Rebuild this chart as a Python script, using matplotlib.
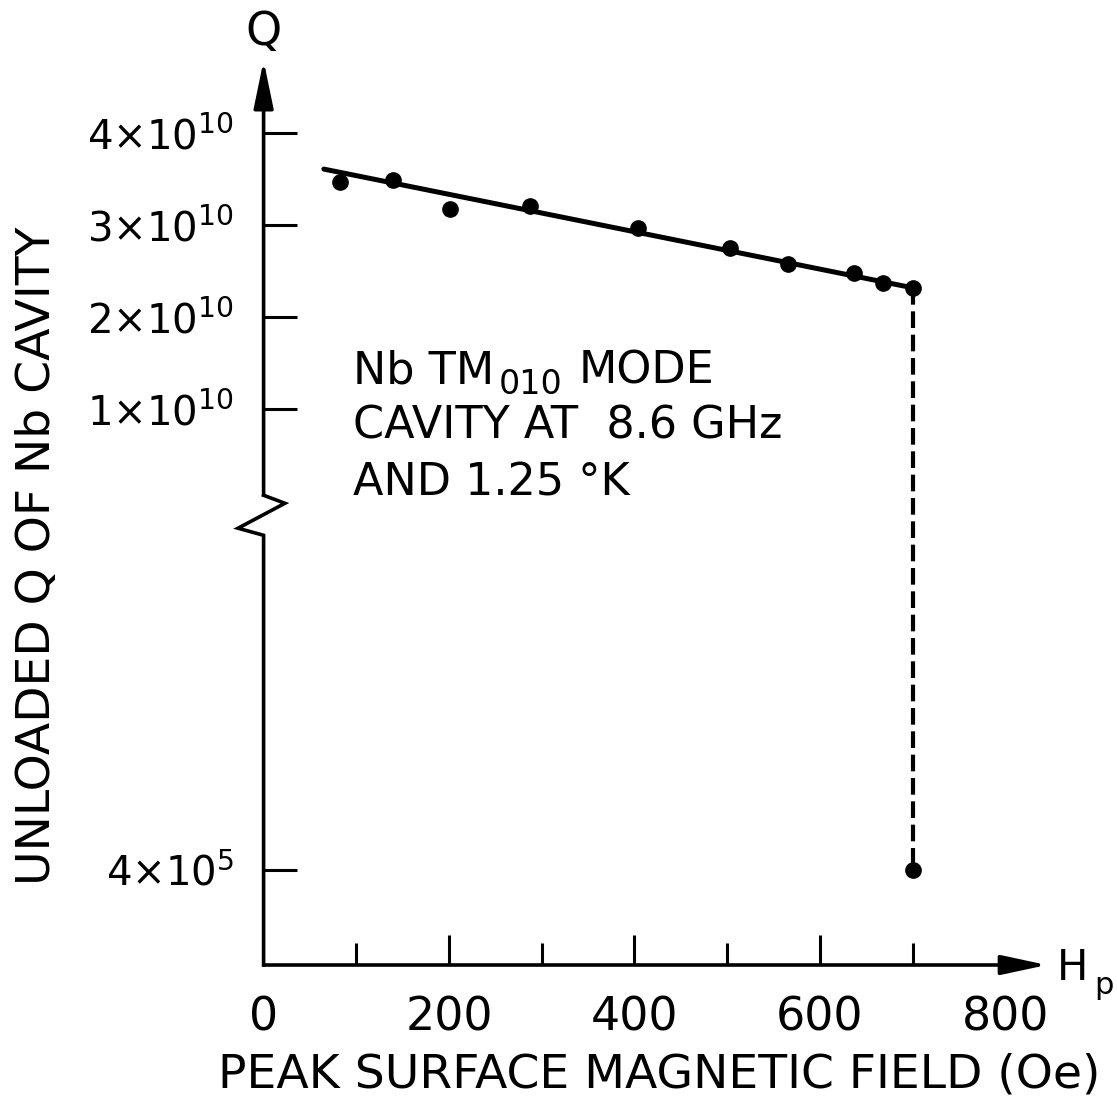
import matplotlib
matplotlib.use('Agg')
import numpy as np
from matplotlib import pyplot as plt

# 測定データ (Hp [Oe], 無負荷Q)
h_peak = [82, 140, 201, 287, 404, 503, 566, 637, 668, 700]
q_unloaded = [3.47e10, 3.49e10, 3.18e10, 3.21e10, 2.97e10, 2.75e10, 2.58e10, 2.48e10, 2.37e10, 2.32e10]
# クエンチ後の点
h_quench = [700, 700]
q_quench = [2.32e10, 4e5]
# 直線フィット
fit_h = [65, 700]
fit_q = [3.61e10, 2.32e10]

x_ticks = [0, 200, 400, 600, 800]
x_minor = [100, 300, 500, 700]
y_tick_q = [4e5, 1e10, 2e10, 3e10, 4e10]
y_tick_labels = [r'$4{\times}10^{5}$', r'$1{\times}10^{10}$', r'$2{\times}10^{10}$',
                 r'$3{\times}10^{10}$', r'$4{\times}10^{10}$']

# 縦軸は途中で切れている: 上側は線形 (1e10 単位), 下側は 4e5 を基準に配置
LOW_REF = 4e5
LOW_Y = -4.01


def q_axis(q):
    q = np.asarray(q, dtype=float)
    return np.where(q >= 1e9, q / 1e10, LOW_Y + np.log10(q / LOW_REF))


plt.rcParams['font.family'] = ['DejaVu Sans']
plt.rcParams['mathtext.fontset'] = 'dejavusans'

fig = plt.figure(figsize=(11.17, 11), dpi=100)
ax = fig.add_axes([263.6 / 1117, 135 / 1100, 788 / 1117, 910 / 1100])
ax.set_xlim(0, 850)
ax.set_ylim(-5.04, 4.85)
for s in ax.spines.values():
    s.set_visible(False)

# 軸 (矢印付き) と縦軸の切れ目
ax.plot([0, 0, -27.6, 23, 0], [-5.04, -0.37, -0.293, -0.022, 0.065],
        color='black', lw=2.6, clip_on=False, solid_joinstyle='miter')
ax.annotate('', xy=(0, 4.79), xytext=(0, 0.065),
            arrowprops=dict(arrowstyle='-|>,head_length=1.45,head_width=0.3',
                            mutation_scale=20, lw=2.6, color='black',
                            shrinkA=0, shrinkB=0), annotation_clip=False)
ax.annotate('', xy=(845, -5.04), xytext=(0, -5.04),
            arrowprops=dict(arrowstyle='-|>,head_length=1.4,head_width=0.3',
                            mutation_scale=20, lw=2.6, color='black',
                            shrinkA=0, shrinkB=0), annotation_clip=False)

# データ
ax.plot(fit_h, q_axis(fit_q), color='black', lw=3.6, solid_capstyle='round')
ax.plot(h_peak, q_axis(q_unloaded), 'o', color='black', ms=11)
ax.plot(h_quench, q_axis(q_quench), color='black', lw=3, dashes=(4, 1.6))
ax.plot(h_quench[1:], q_axis(q_quench[1:]), 'o', color='black', ms=11)

# 目盛り
ax.set_xticks(x_ticks)
ax.set_xticklabels([str(v) for v in x_ticks], fontsize=33)
ax.set_xticks(x_minor, minor=True)
ax.tick_params(axis='x', which='major', direction='in', length=21.6, width=2.2, pad=22)
ax.tick_params(axis='x', which='minor', direction='in', length=16, width=2.2)
for i in (0, -1):
    ax.xaxis.get_major_ticks()[i].tick1line.set_visible(False)

ax.set_yticks(q_axis(y_tick_q))
ax.set_yticklabels(y_tick_labels, fontsize=29)
ax.tick_params(axis='y', direction='in', length=24, width=2.2, pad=21)

# ラベル
ax.text(0, 5.09, 'Q', fontsize=33, ha='center', va='center', clip_on=False)
fig.text(1057 / 1117, 1 - 980 / 1100, 'H', fontsize=30, ha='left', va='baseline')
fig.text(1094 / 1117, 1 - 994 / 1100, 'p', fontsize=22, ha='left', va='baseline')
fig.text(659 / 1117, 1 - 1075 / 1100, 'PEAK SURFACE MAGNETIC FIELD (Oe)',
         fontsize=34, ha='center', va='center')
fig.text(38 / 1117, 1 - 556 / 1100, 'UNLOADED Q OF Nb CAVITY',
         fontsize=34, ha='center', va='center', rotation=90)

# 注記
t1 = ax.text(96.4, 1.283, 'Nb TM', fontsize=32, va='baseline')
t2 = ax.annotate('010', xy=(1, 0), xycoords=t1, xytext=(3, -6),
                 textcoords='offset points', fontsize=24, va='bottom')
ax.annotate('MODE', xy=(1, 0), xycoords=(t2, t1), xytext=(12, 0),
            textcoords='offset points', fontsize=32, va='bottom')
ax.text(96.4, 0.685, 'CAVITY AT  8.6 GHz', fontsize=32, va='baseline')
ax.text(96.4, 0.065, 'AND 1.25 °K', fontsize=32, va='baseline')

fig.savefig('out.png', dpi=100)
